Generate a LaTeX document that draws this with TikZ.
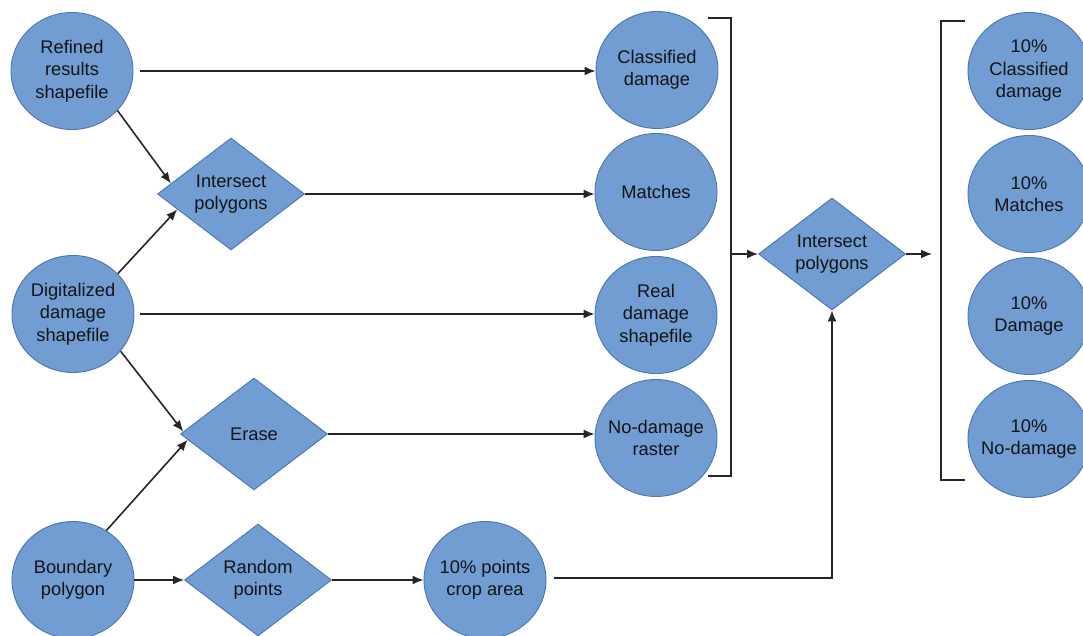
\documentclass[tikz,border=0pt]{standalone}
\usepackage{fontspec}
\setmainfont{Liberation Sans}
\usetikzlibrary{shapes.geometric,arrows.meta}
\definecolor{nodefill}{RGB}{113,157,210}
\definecolor{nodeline}{RGB}{72,118,178}
\definecolor{txt}{RGB}{20,20,20}
\tikzset{
  circ/.style={ellipse, draw=nodeline, fill=nodefill, line width=0.9pt,
    minimum width=122pt, minimum height=117pt, inner xsep=-25pt, inner ysep=-12pt, align=center,
    text=txt, font=\fontsize{18.3}{22.5}\selectfont},
  diam/.style={diamond, draw=nodeline, fill=nodefill, line width=0.9pt,
    minimum width=147pt, minimum height=112pt, inner sep=0pt, aspect=1.3, align=center,
    text=txt, font=\fontsize{18.3}{22.5}\selectfont},
  conn/.style={line width=1.6pt, draw=black!85, -{Latex[length=11pt,width=9pt]}},
  brk/.style={line width=1.6pt, draw=black!85}
}
\begin{document}
\begin{tikzpicture}[x=1pt,y=-1pt]
\useasboundingbox (0,0) rectangle (1083,636);
\clip (0,0) rectangle (1083,636);
% left column
\node[circ] (ref) at (72,71) {Refined\\results\\shapefile};
\node[circ] (dig) at (73,314) {Digitalized\\damage\\shapefile};
\node[circ] (bnd) at (73,580) {Boundary\\polygon};
% diamonds
\node[diam] (int1) at (231,194) {Intersect\\polygons};
\node[diam] (erase) at (254,434) {Erase};
\node[diam] (rnd) at (258,580) {Random\\points};
\node[circ] (pts) at (485,580) {10\% points\\crop area};
% middle column
\node[circ] (cls) at (657,70) {Classified\\damage};
\node[circ] (mat) at (656,192) {Matches};
\node[circ] (real) at (656,315) {Real\\damage\\shapefile};
\node[circ] (nod) at (656,438) {No-damage\\raster};
\node[diam] (int2) at (832,254) {Intersect\\polygons};
% right column
\node[circ] (r1) at (1029,71) {10\%\\Classified\\damage};
\node[circ] (r2) at (1029,194) {10\%\\Matches};
\node[circ] (r3) at (1029,316) {10\%\\Damage};
\node[circ] (r4) at (1029,439) {10\%\\No-damage};
% brackets
\coordinate (b1a) at (708,18);
\coordinate (b1b) at (731,18);
\coordinate (b1c) at (731,476);
\coordinate (b1d) at (708,476);
\coordinate (b1m) at (731,254);
\draw[brk] (b1a) -- (b1b) -- (b1c) -- (b1d);
\coordinate (b2a) at (965,21);
\coordinate (b2b) at (941,21);
\coordinate (b2c) at (941,480);
\coordinate (b2d) at (965,480);
\coordinate (b2m) at (932,256);
\draw[brk] (b2a) -- (b2b) -- (b2c) -- (b2d);
% connectors
\draw[conn, shorten <=7pt] (ref.east) -- (ref.east -| cls.west);
\draw[conn] (ref.-41) -- (int1.170);
\draw[conn] (dig.42) -- (int1.196);
\draw[conn] (int1.east) -- (int1.east -| mat.west);
\draw[conn, shorten <=6pt] (dig.east) -- (dig.east -| real.west);
\draw[conn] (dig.-38) -- (erase.178);
\draw[conn] (bnd.56) -- (erase.185);
\draw[conn] (erase.east) -- (erase.east -| nod.west);
\draw[conn] (bnd.east) -- (rnd.west);
\draw[conn] (rnd.east) -- (pts.west);
\draw[conn, shorten <=8pt] ([yshift=2pt]pts.east) -- ([yshift=2pt]pts.east -| int2.south) -- (int2.south);
\draw[conn] (b1m) -- (int2.west);
\draw[conn] (int2.east) -- (int2.east -| b2m);
\end{tikzpicture}
\end{document}
